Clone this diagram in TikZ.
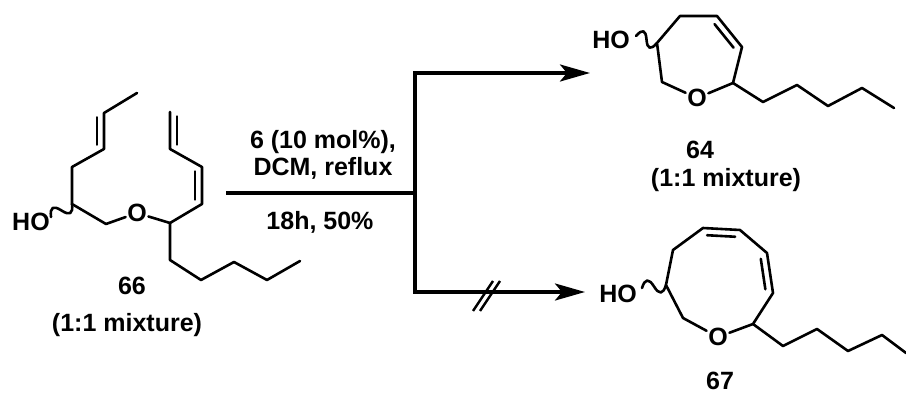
\documentclass[tikz,border=0pt]{standalone}
\usepackage{fontspec}
\setmainfont{Liberation Sans}
\usetikzlibrary{arrows.meta}
\usetikzlibrary{calc}

\tikzset{
  bond/.style={line width=2.6pt, line cap=round, line join=round},
  atom/.style={font=\bfseries\fontsize{25}{30}\selectfont, inner sep=1.5pt},
  lbl/.style={font=\bfseries\fontsize{25}{30}\selectfont, inner sep=0pt},
  rxn/.style={line width=3.6pt, line join=miter},
  rxnarrow/.style={rxn, -{Stealth[length=30pt,width=17pt,inset=7pt]}},
  slash/.style={line width=2.4pt}
}
% second line of a double bond: from, to, side (90 or -90)
\newcommand{\innerline}[3]{%
  \draw[bond] ($(#1)!0.12!(#2)!7pt!#3:(#2)$) -- ($(#1)!0.88!(#2)!7pt!#3:(#2)$);}
% wavy bond: from, to
\newcommand{\wavybond}[2]{%
  \draw[bond] (#1) .. controls ($(#1)!0.17!(#2)!9pt!90:(#2)$)
    and ($(#1)!0.33!(#2)!9pt!90:(#2)$) .. ($(#1)!0.5!(#2)$)
    .. controls ($(#1)!0.67!(#2)!9pt!-90:(#2)$)
    and ($(#1)!0.83!(#2)!9pt!-90:(#2)$) .. (#2);}

\begin{document}
\begin{tikzpicture}[x=1pt,y=-1pt]
  \useasboundingbox (0,0) rectangle (906,396);

  % diene 66
  \coordinate (a1) at (137,93);
  \coordinate (a2) at (104,113);
  \coordinate (a3) at (104,149);
  \coordinate (a4) at (72,167);
  \coordinate (a5) at (72,204);
  \coordinate (a6) at (106,224);
  \node[atom] (oa) at (137,213) {O};
  \coordinate (a7) at (170,223);
  \coordinate (a8) at (202,204);
  \coordinate (a9) at (202,167);
  \coordinate (a10) at (170,149);
  \coordinate (a11) at (170,112);
  \coordinate (a12) at (170,260);
  \coordinate (a13) at (201,280);
  \coordinate (a14) at (234,262);
  \coordinate (a15) at (267,280);
  \coordinate (a16) at (300,261);
  \node[atom] (hoa) at (31,222) {HO};
  \coordinate (wa) at (51,217);
  \draw[bond] (a1) -- (a2) -- (a3) -- (a4) -- (a5) -- (a6) -- (oa) -- (a7)
    -- (a8) -- (a9) -- (a10) -- (a11);
  \draw[bond] (a7) -- (a12) -- (a13) -- (a14) -- (a15) -- (a16);
  \innerline{a2}{a3}{-90}
  \innerline{a8}{a9}{90}
  \innerline{a10}{a11}{-90}
  \wavybond{wa}{a5}
  \node[lbl] (n66) at (132,286) {66};
  \node[lbl] (m66) at (127,325) {(1:1 mixture)};

  % conditions and split arrow
  \node[lbl] (cond1) at (323,142) {6 (10 mol\%),};
  \node[lbl] (cond2) at (323,168) {DCM, reflux};
  \node[lbl] (cond3) at (320,222) {18h, 50\%};
  \coordinate (start) at (226,193);
  \coordinate (split) at (415,193);
  \coordinate (tip64) at (590,73);
  \coordinate (tip67) at (585,292);
  \draw[rxn] (start) -- (split);
  \draw[rxnarrow] (split) |- (tip64);
  \draw[rxnarrow] (split) |- (tip67);
  \coordinate (nogo) at (490,296);
  \draw[slash] ($(nogo)+(-17,15)$) -- ($(nogo)+(3,-15)$);
  \draw[slash] ($(nogo)+(-10,15)$) -- ($(nogo)+(10,-15)$);

  % oxepene 64
  \coordinate (p1) at (657,43);
  \coordinate (p2) at (680,16);
  \coordinate (p3) at (717,16);
  \coordinate (p4) at (742,47);
  \coordinate (p5) at (733,83);
  \node[atom] (ob) at (697,98) {O};
  \coordinate (p6) at (662,82);
  \coordinate (p7) at (763,102);
  \coordinate (p8) at (797,85);
  \coordinate (p9) at (828,106);
  \coordinate (p10) at (862,88);
  \coordinate (p11) at (894,108);
  \node[atom] (hob) at (611,40) {HO};
  \coordinate (wb) at (636,36);
  \draw[bond] (ob) -- (p6) -- (p1) -- (p2) -- (p3) -- (p4) -- (p5) -- (ob);
  \draw[bond] (p5) -- (p7) -- (p8) -- (p9) -- (p10) -- (p11);
  \innerline{p3}{p4}{-90}
  \wavybond{wb}{p1}
  \node[lbl] (n64) at (700,150) {64};
  \node[lbl] (m64) at (726,180) {(1:1 mixture)};

  % oxocine 67
  \coordinate (q1) at (666,285);
  \coordinate (q2) at (673,250);
  \coordinate (q3) at (703,228);
  \coordinate (q4) at (740,230);
  \coordinate (q5) at (767,253);
  \coordinate (q6) at (773,293);
  \coordinate (q7) at (753,324);
  \node[atom] (oc) at (718,337) {O};
  \coordinate (q8) at (683,318);
  \coordinate (q9) at (783,346);
  \coordinate (q10) at (817,329);
  \coordinate (q11) at (848,351);
  \coordinate (q12) at (882,335);
  \coordinate (q13) at (906,353);
  \node[atom] (hoc) at (618,294) {HO};
  \coordinate (wc) at (642,288);
  \draw[bond] (oc) -- (q8) -- (q1) -- (q2) -- (q3) -- (q4) -- (q5) -- (q6)
    -- (q7) -- (oc);
  \draw[bond] (q7) -- (q9) -- (q10) -- (q11) -- (q12) -- (q13);
  \innerline{q3}{q4}{-90}
  \innerline{q5}{q6}{-90}
  \wavybond{wc}{q1}
  \node[lbl] (n67) at (720,381) {67};
\end{tikzpicture}
\end{document}
